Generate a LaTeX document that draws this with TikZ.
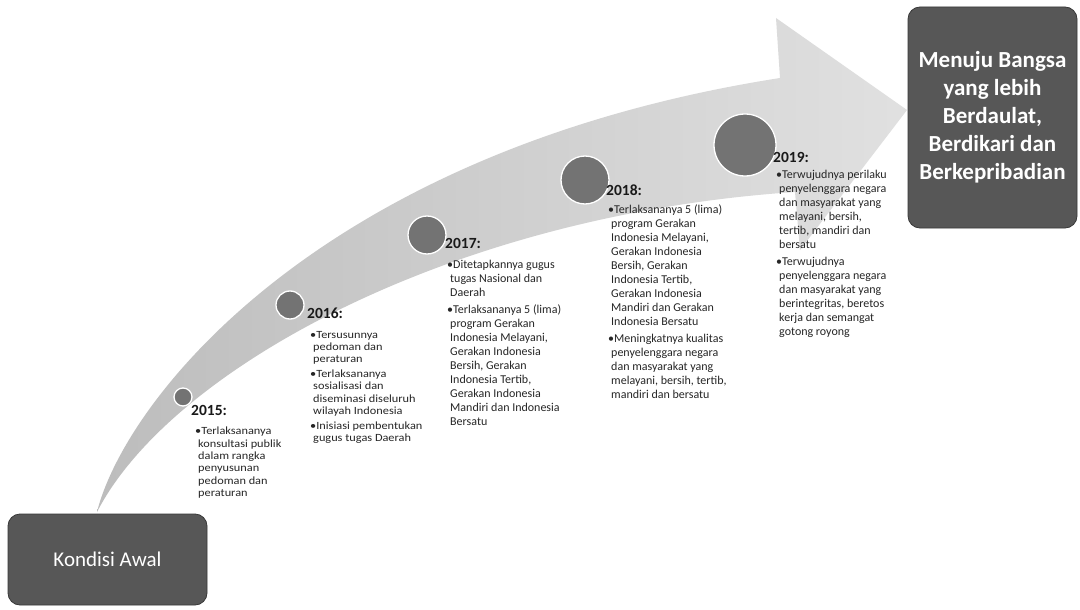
\documentclass[tikz,border=0pt]{standalone}
\usepackage{fontspec}
\setmainfont{Carlito}
\newfontfamily\widefont[FakeStretch=1.12]{Carlito}
\newcommand\contind{\hspace*{3pt}}
\begin{document}
\begin{tikzpicture}[x=1pt,y=-1pt,
  box/.style={rounded corners=12pt, fill=black!66, draw=black!78, line width=0.8pt, inner sep=0pt},
  dot/.style={circle, fill=black!55, draw=white, line width=1.3pt, inner sep=0pt},
  yearlbl/.style={font=\fontsize{15.5}{18}\selectfont\bfseries, text=black!90, anchor=west, inner sep=0pt},
  body/.style={font=\widefont\fontsize{11}{12.3}\selectfont, text=black!85, align=left, anchor=north west, inner sep=0pt},
  bodybig/.style={body, font=\fontsize{12}{14}\selectfont},
]
\useasboundingbox (0,0) rectangle (1080,610);
\fill[white] (0,0) rectangle (1080,610);

% big curved arrow
\shade[left color=black!26, right color=black!12]
  (97,512) .. controls (125,400) and (320,150) .. (780,78)
  -- (776,18) -- (907,110) -- (800,250) -- (795,192)
  .. controls (450,215) and (170,370) .. (97,512) -- cycle;

% milestones
\node[dot, minimum size=18pt] (c15) at (183,397) {};
\node[dot, minimum size=28pt] (c16) at (290,305) {};
\node[dot, minimum size=38pt] (c17) at (427,235) {};
\node[dot, minimum size=48pt] (c18) at (585,180) {};
\node[dot, minimum size=62pt] (c19) at (745,145) {};

% year labels
\node[yearlbl] (y15) at (191,410) {2015:};
\node[yearlbl] (y16) at (307,313) {2016:};
\node[yearlbl] (y17) at (445,243) {2017:};
\node[yearlbl] (y18) at (606,190) {2018:};
\node[yearlbl] (y19) at (773,157) {2019:};

% texts
\node[body] (t15) at (195,427) {%
•Terlaksananya\\
\contind konsultasi publik\\
\contind dalam rangka\\
\contind penyusunan\\
\contind pedoman dan\\
\contind peraturan};

\node[body] (t16) at (310,331) {%
•Tersusunnya\\
\contind pedoman dan\\
\contind peraturan\\[2.5pt]
•Terlaksananya\\
\contind sosialisasi dan\\
\contind diseminasi diseluruh\\
\contind wilayah Indonesia\\[2.5pt]
•Inisiasi pembentukan\\
\contind gugus tugas Daerah};

\node[bodybig] (t17) at (447,260) {%
•Ditetapkannya gugus\\
\contind tugas Nasional dan\\
\contind Daerah\\[3pt]
•Terlaksananya 5 (lima)\\
\contind program Gerakan\\
\contind Indonesia Melayani,\\
\contind Gerakan Indonesia\\
\contind Bersih, Gerakan\\
\contind Indonesia Tertib,\\
\contind Gerakan Indonesia\\
\contind Mandiri dan Indonesia\\
\contind Bersatu};

\node[bodybig] (t18) at (608,205) {%
•Terlaksananya 5 (lima)\\
\contind program Gerakan\\
\contind Indonesia Melayani,\\
\contind Gerakan Indonesia\\
\contind Bersih, Gerakan\\
\contind Indonesia Tertib,\\
\contind Gerakan Indonesia\\
\contind Mandiri dan Gerakan\\
\contind Indonesia Bersatu\\[3pt]
•Meningkatnya kualitas\\
\contind penyelenggara negara\\
\contind dan masyarakat yang\\
\contind melayani, bersih, tertib,\\
\contind mandiri dan bersatu};

\node[bodybig] (t19) at (776,170) {%
•Terwujudnya perilaku\\
\contind penyelenggara negara\\
\contind dan masyarakat yang\\
\contind melayani, bersih,\\
\contind tertib, mandiri dan\\
\contind bersatu\\[3pt]
•Terwujudnya\\
\contind penyelenggara negara\\
\contind dan masyarakat yang\\
\contind berintegritas, beretos\\
\contind kerja dan semangat\\
\contind gotong royong};

% boxes
\node[box, minimum width=199pt, minimum height=91pt, text=white,
      font=\fontsize{21}{25}\selectfont] (start) at (107.5,559.5) {Kondisi Awal};
\node[box, minimum width=169pt, minimum height=221pt, align=center, text=white,
      font=\fontsize{23}{28}\selectfont\bfseries] (goal) at (992.5,117.5)
      {Menuju Bangsa\\yang lebih\\Berdaulat,\\Berdikari dan\\Berkepribadian};
\end{tikzpicture}
\end{document}
